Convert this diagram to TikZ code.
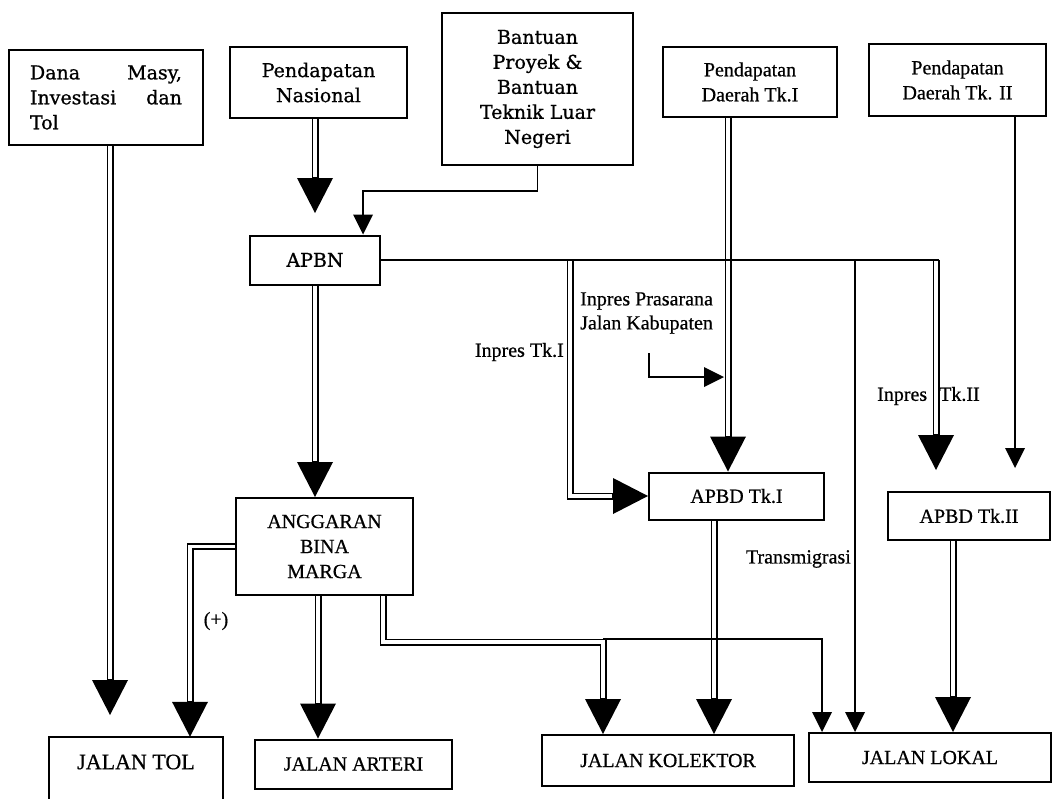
\documentclass[tikz,border=0pt]{standalone}
\usepackage{fontspec}
\setmainfont{Liberation Serif}[RawFeature={embolden=0.6}]
\newfontfamily\cent{DejaVu Serif}[RawFeature={embolden=0.9}]
\usetikzlibrary{arrows.meta,backgrounds}
\begin{document}
\begin{tikzpicture}[x=1pt,y=-1pt,
  box/.style={draw, line width=2pt, inner sep=0pt, align=center},
  tms/.style={font=\fontsize{20}{25}\selectfont},
  cen/.style={font=\cent\fontsize{19}{25}\selectfont},
  lbl/.style={font=\fontsize{20}{24}\selectfont, inner sep=0pt},
  dblarr/.style={line width=7pt, -{Triangle[width=36pt,length=35pt,line width=0pt]},
    postaction={draw=white, -, line width=3.2pt, shorten >=36pt}},
  sarr/.style={line width=1.6pt, -{Triangle[width=20pt,length=20pt,line width=0pt]}},
  sline/.style={line width=1.6pt},
]
\useasboundingbox (0,0) rectangle (1054,798);

% boxes
\node[box,cen,minimum width=194pt,minimum height=95pt,text width=152pt,align=left] (dana) at (106,97.5)
  {Dana \hfill Masy,\\Investasi \hfill dan\\Tol};
\node[box,cen,minimum width=177pt,minimum height=71pt] (pnas) at (318.5,82.5) {Pendapatan\\Nasional};
\node[box,cen,minimum width=191pt,minimum height=152pt] (bant) at (537.5,89)
  {Bantuan\\Proyek \&\\Bantuan\\Teknik Luar\\Negeri};
\node[box,tms,minimum width=174pt,minimum height=70pt] (pd1) at (750,82) {Pendapatan\\Daerah Tk.I};
\node[box,tms,minimum width=177pt,minimum height=72pt] (pd2) at (957.5,80) {Pendapatan\\Daerah Tk. II};
\node[box,cen,minimum width=130pt,minimum height=49pt] (apbn) at (315,260) {APBN};
\node[box,tms,minimum width=177pt,minimum height=97pt] (agg) at (324.5,546.5) {ANGGARAN\\BINA\\MARGA};
\node[box,tms,minimum width=175pt,minimum height=47pt] (apbd1) at (736.5,496) {APBD Tk.I};
\node[box,tms,minimum width=162pt,minimum height=48pt] (apbd2) at (969,516) {APBD Tk.II};
\node[inner sep=0pt,minimum width=174pt,minimum height=50pt,font=\fontsize{22}{25}\selectfont] (jtol) at (136,762) {JALAN TOL};
\draw[line width=2pt] ([yshift=-80pt]jtol.north west) -- (jtol.north west) -- (jtol.north east) -- ([yshift=-80pt]jtol.north east);
\node[box,tms,minimum width=197pt,minimum height=49pt] (jart) at (353.5,764) {JALAN ARTERI};
\node[box,tms,minimum width=252pt,minimum height=51pt] (jkol) at (668,760.5) {JALAN KOLEKTOR};
\node[box,tms,minimum width=242pt,minimum height=49pt] (jlok) at (930,757.5) {JALAN LOKAL};

% labels
\node[lbl,anchor=east] (l1) at (564,352) {Inpres Tk.I};
\node[lbl,anchor=west,align=left] (l2) at (580,313) {Inpres Prasarana\\Jalan Kabupaten};
\node[lbl,anchor=west] (l3) at (877,396) {Inpres\hspace{12pt}Tk.II};
\node[lbl,anchor=east] (l4) at (851,559) {Transmigrasi};
\node[lbl,font=\fontsize{20}{22}\selectfont] (l5) at (216,621) {(+)};

% helper coordinates
\coordinate (t1) at (110,715);
\coordinate (t2) at (315,213);
\coordinate (hR) at (939,260);
\coordinate (j6) at (570,260);
\coordinate (v7) at (728,0);
\coordinate (p8s) at (649,353);
\coordinate (p8e) at (724,377);
\coordinate (j9) at (855,260);
\coordinate (j10) at (936,260);
\coordinate (t10) at (936,470);
\coordinate (v11) at (1015,0);
\coordinate (t11) at (1015,468);
\coordinate (v12) at (190,0);
\coordinate (v13) at (318,0);
\coordinate (v14) at (383,0);
\coordinate (j14) at (603,642);
\coordinate (j15) at (603,639);
\coordinate (v15) at (822,0);
\coordinate (v16) at (714,0);
\coordinate (v17) at (953,0);

\begin{scope}[on background layer]
% double connectors
\draw[dblarr] (dana.south -| t1) -- (t1);
\draw[dblarr] (pnas.south -| t2) -- (t2);
\draw[dblarr] (apbn.south) -- (apbn.south |- agg.north);
\draw[dblarr] (j6) |- (apbd1.west);
\draw[dblarr] (pd1.south -| v7) -- (apbd1.north -| v7);
\draw[dblarr] (j10) -- (t10);
\draw[dblarr] (agg.west) -| (jtol.north -| v12);
\draw[dblarr] (agg.south -| v13) -- (jart.north -| v13);
\draw[dblarr] (agg.south -| v14) |- (j14) -- (jkol.north -| j14);
\draw[dblarr] (apbd1.south -| v16) -- (jkol.north -| v16);
\draw[dblarr] (apbd2.south -| v17) -- (jlok.north -| v17);
% single connectors
\draw[sarr] (bant.south) -- ++(0,25) -| ([xshift=48pt]apbn.north);
\draw[sline] (apbn.east) -- (hR);
\draw[sarr] (p8s) |- (p8e);
\draw[sarr] (j9) -- (jlok.north -| j9);
\draw[sarr] (pd2.south -| v11) -- (t11);
\draw[sarr] (j15) -| (jlok.north -| v15);
\end{scope}
\end{tikzpicture}
\end{document}
